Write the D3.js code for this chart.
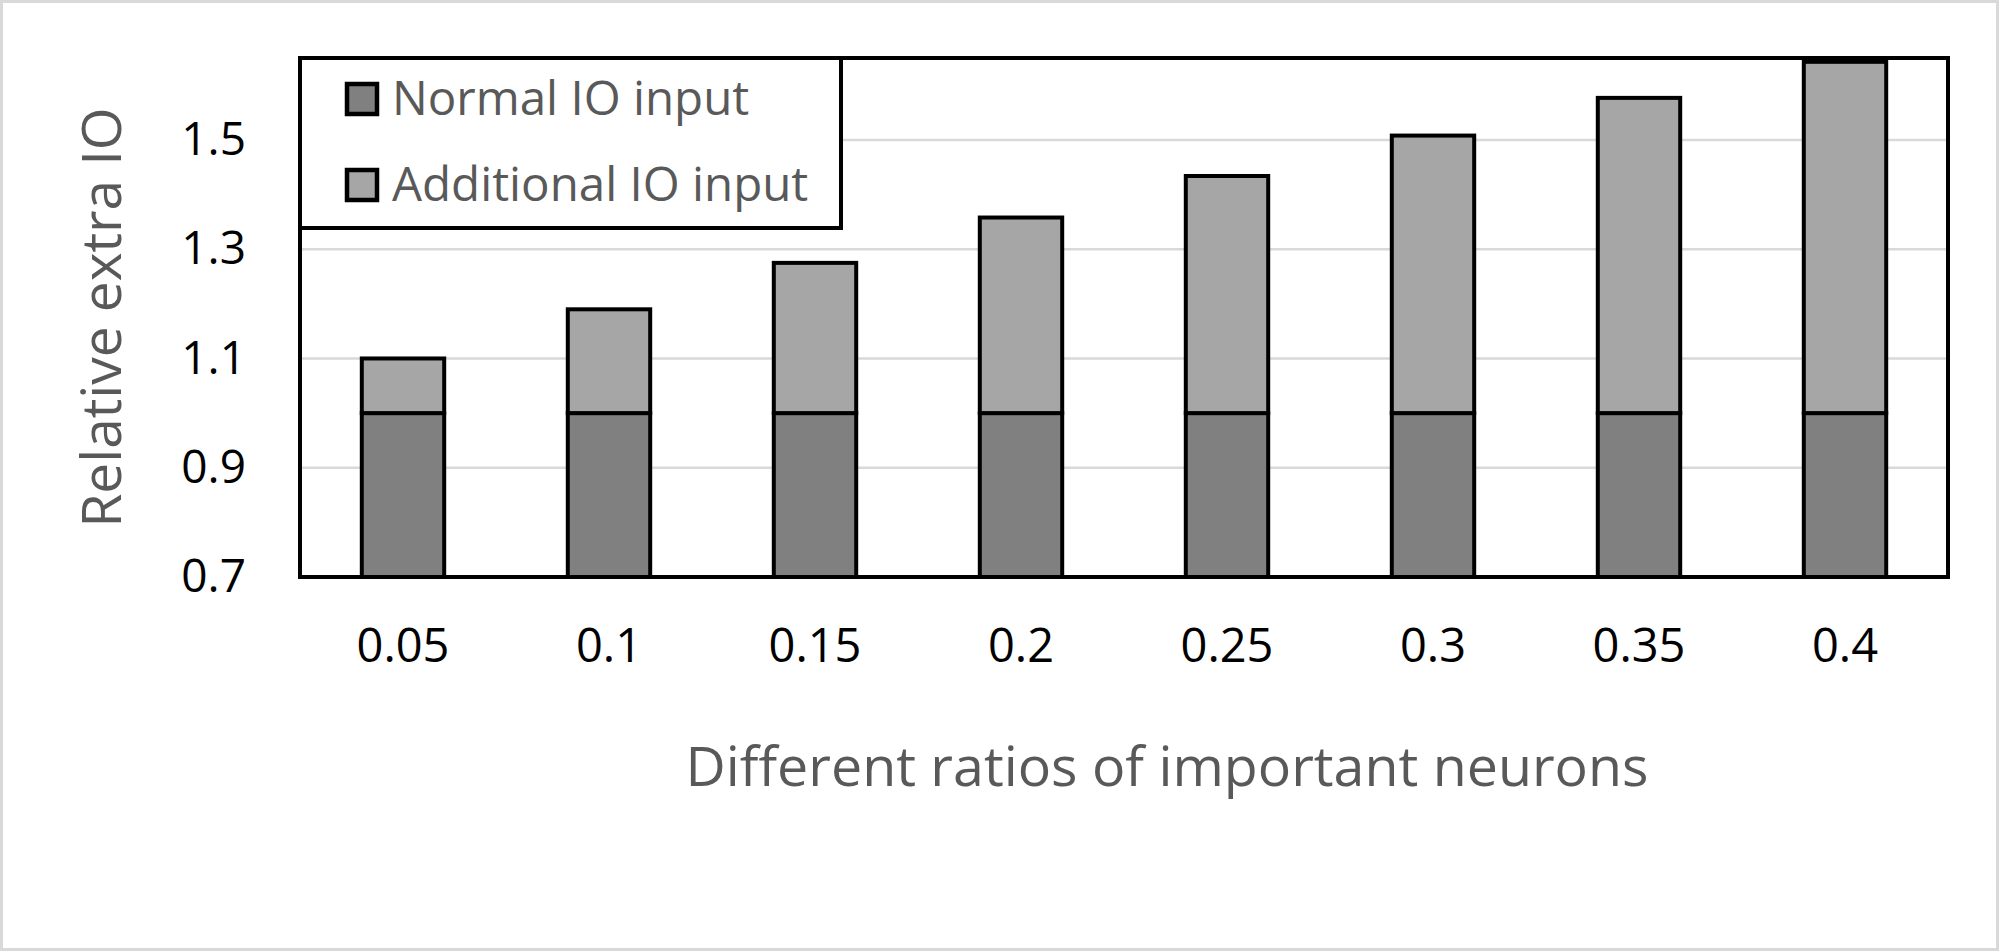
<!DOCTYPE html>
<html>
<head>
<meta charset="utf-8">
<script src="https://cdn.jsdelivr.net/npm/d3@7"></script>
<style>
  body { margin: 0; background: #fff; }
  svg { display: block; }
</style>
</head>
<body>
<div id="chart"></div>
<script>
// data
var ratios = ["0.05", "0.1", "0.15", "0.2", "0.25", "0.3", "0.35", "0.4"];
var normalIO = [1, 1, 1, 1, 1, 1, 1, 1];
var additionalIO = [0.10, 0.19, 0.275, 0.358, 0.434, 0.508, 0.577, 0.643];
var seriesNames = ["Normal IO input", "Additional IO input"];
var yTicks = [0.7, 0.9, 1.1, 1.3, 1.5];

var W = 1999, H = 951;
var margin = {top: 58, right: 51, bottom: 374, left: 300};
var width = W - margin.left - margin.right;
var height = H - margin.top - margin.bottom;

var svg = d3.select("#chart")
  .append("svg")
  .attr("width", W)
  .attr("height", H);

// chart area border
svg.append("rect")
  .attr("x", 1.5).attr("y", 1.5)
  .attr("width", W - 3).attr("height", H - 3)
  .attr("fill", "#fff")
  .attr("stroke", "#d9d9d9")
  .attr("stroke-width", 3);

var g = svg.append("g")
  .attr("transform", "translate(" + margin.left + "," + margin.top + ")");

var x = d3.scaleBand()
  .domain(ratios)
  .range([0, width])
  .paddingInner(0.6)
  .paddingOuter(0.3);

var y = d3.scaleLinear()
  .domain([0.7, 1.65])
  .range([height, 0]);

var color = d3.scaleOrdinal()
  .domain(seriesNames)
  .range(["#808080", "#a6a6a6"]);

// gridlines
g.append("g")
  .selectAll("line")
  .data(yTicks.slice(1))
  .enter().append("line")
    .attr("x1", 0).attr("x2", width)
    .attr("y1", function(d) { return y(d); })
    .attr("y2", function(d) { return y(d); })
    .attr("stroke", "#d9d9d9")
    .attr("stroke-width", 2.5);

// Y axis labels
var yAxis = g.append("g")
  .call(d3.axisLeft(y).tickValues(yTicks).tickFormat(d3.format(".1f")).tickSize(0).tickPadding(54));
yAxis.select(".domain").remove();
yAxis.selectAll("text")
  .attr("font-family", "'Open Sans', sans-serif")
  .attr("font-size", 46)
  .attr("fill", "#000");

// X axis labels
var xAxis = g.append("g")
  .attr("transform", "translate(0," + height + ")")
  .call(d3.axisBottom(x).tickSize(0).tickPadding(52));
xAxis.select(".domain").remove();
xAxis.selectAll("text")
  .attr("font-family", "'Open Sans', sans-serif")
  .attr("font-size", 47)
  .attr("fill", "#000");

// stacked bars
var table = ratios.map(function(r, i) {
  return {ratio: r, "Normal IO input": normalIO[i], "Additional IO input": additionalIO[i]};
});
var stacked = d3.stack().keys(seriesNames)(table);

g.append("g")
  .selectAll("g")
  .data(stacked)
  .enter().append("g")
    .attr("fill", function(d) { return color(d.key); })
  .selectAll("rect")
  .data(function(d) { return d; })
  .enter().append("rect")
    .attr("x", function(d) { return x(d.data.ratio); })
    .attr("y", function(d) { return y(d[1]); })
    .attr("width", x.bandwidth())
    .attr("height", function(d) { return y(Math.max(d[0], y.domain()[0])) - y(d[1]); })
    .attr("stroke", "#000")
    .attr("stroke-width", 4);

// plot frame
g.append("rect")
  .attr("width", width).attr("height", height)
  .attr("fill", "none")
  .attr("stroke", "#000")
  .attr("stroke-width", 4);

// legend
var legend = g.append("g");
legend.append("rect")
  .attr("x", 0).attr("y", 0)
  .attr("width", 541).attr("height", 170)
  .attr("fill", "#fff")
  .attr("stroke", "#000")
  .attr("stroke-width", 4);

var items = legend.selectAll(".item")
  .data(seriesNames)
  .enter().append("g")
    .attr("class", "item")
    .attr("transform", function(d, i) { return "translate(0," + (i * 86) + ")"; });

items.append("rect")
  .attr("x", 47).attr("y", 26)
  .attr("width", 30).attr("height", 30)
  .attr("fill", function(d) { return color(d); })
  .attr("stroke", "#000")
  .attr("stroke-width", 4.5);

items.append("text")
  .attr("x", 92).attr("y", 57)
  .attr("font-family", "'Open Sans', sans-serif")
  .attr("font-size", 47.5)
  .attr("fill", "#595959")
  .text(function(d) { return d; });

// axis titles
svg.append("text")
  .attr("transform", "translate(121," + (margin.top + height / 2) + ") rotate(-90)")
  .attr("text-anchor", "middle")
  .attr("font-family", "'Open Sans', sans-serif")
  .attr("font-size", 55)
  .attr("fill", "#595959")
  .text("Relative extra IO");

svg.append("text")
  .attr("x", 1167).attr("y", 786)
  .attr("text-anchor", "middle")
  .attr("font-family", "'Open Sans', sans-serif")
  .attr("font-size", 55.5)
  .attr("fill", "#595959")
  .text("Different ratios of important neurons");
</script>
</body>
</html>
